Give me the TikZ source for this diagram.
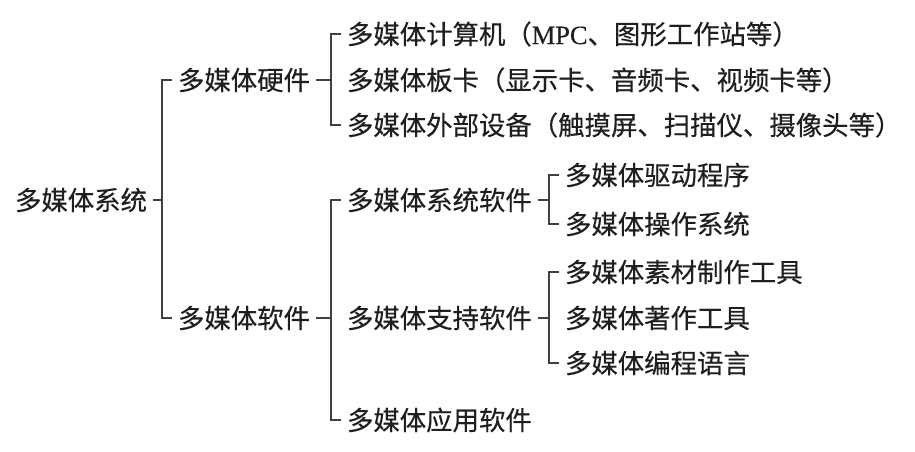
\documentclass[tikz,border=0pt]{standalone}
\usepackage{fontspec}
\newfontfamily\cjk[FakeBold=0.4]{Noto Sans CJK SC}
\newfontfamily\lat[FakeBold=0.4]{Liberation Serif}
\tikzset{every picture/.style={line width=1.2pt}}
\tikzset{
	item/.style={anchor=west, inner sep=0pt, outer sep=4.5pt, text=black!88,
		font=\cjk\fontsize{19.8}{24}\selectfont},
	brace/.style={draw=black!75}}

\begin{document}
\begin{tikzpicture}[x=0.75pt,y=0.75pt,yscale=-1,xscale=1]
	\useasboundingbox (0,0) rectangle (915,451);

	% Text Node
	\node[item] (mms) at (9,200) {多媒体系统};
	% Text Node
	\node[item] (hw) at (172,80) {多媒体硬件};
	% Text Node
	\node[item] (sw) at (172,318) {多媒体软件};

	% Text Node
	\node[item] (mpc) at (341,34) {多媒体计算机（{\lat MPC}、图形工作站等）};
	% Text Node
	\node[item] (card) at (341,80) {多媒体板卡（显示卡、音频卡、视频卡等）};
	% Text Node
	\node[item] (dev) at (341,125) {多媒体外部设备（触摸屏、扫描仪、摄像头等）};

	% Text Node
	\node[item] (syssw) at (341,200) {多媒体系统软件};
	% Text Node
	\node[item] (supsw) at (341,318) {多媒体支持软件};
	% Text Node
	\node[item] (appsw) at (341,420) {多媒体应用软件};

	% Text Node
	\node[item] (drv) at (559,175) {多媒体驱动程序};
	% Text Node
	\node[item] (os) at (559,224) {多媒体操作系统};
	% Text Node
	\node[item] (mat) at (559,272) {多媒体素材制作工具};
	% Text Node
	\node[item] (auth) at (559,318) {多媒体著作工具};
	% Text Node
	\node[item] (lang) at (559,363) {多媒体编程语言};

	%Bracket: system
	\draw[brace] (hw.west) -- ++(-10,0) coordinate (b1) |- (sw.west);
	\draw[brace] (mms.east) -- (mms.east -| b1);
	%Bracket: hardware
	\draw[brace] (mpc.west) -- ++(-10,0) coordinate (b2) |- (dev.west);
	\draw[brace] (hw.east) -- (hw.east -| b2);
	%Bracket: software
	\draw[brace] (syssw.west) -- ++(-10,0) coordinate (b3) |- (appsw.west);
	\draw[brace] (sw.east) -- (sw.east -| b3);
	%Bracket: system software
	\draw[brace] (drv.west) -- ++(-10,0) coordinate (b4) |- (os.west);
	\draw[brace] (syssw.east) -- (syssw.east -| b4);
	%Bracket: support software
	\draw[brace] (mat.west) -- ++(-10,0) coordinate (b5) |- (lang.west);
	\draw[brace] (supsw.east) -- (supsw.east -| b5);

\end{tikzpicture}
\end{document}
